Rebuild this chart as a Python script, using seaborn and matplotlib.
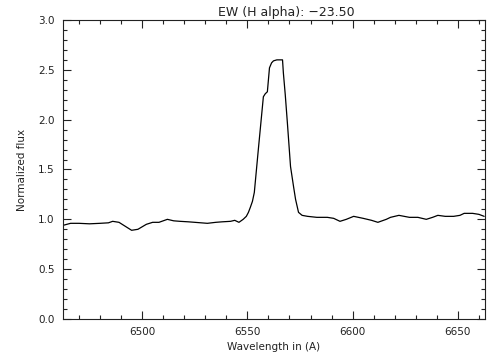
import numpy as np
import pandas as pd
import matplotlib
matplotlib.use("Agg")
import matplotlib.pyplot as plt
from matplotlib.ticker import MultipleLocator
import seaborn as sns

wavelength = [6462.5, 6466, 6470, 6475, 6480, 6484, 6486, 6489, 6492, 6495, 6498,
              6502, 6505, 6508, 6512, 6515, 6518, 6522, 6525, 6528, 6531, 6535,
              6538, 6542, 6544, 6546, 6548, 6549.5, 6550.5, 6551.4, 6552.4, 6553.3,
              6555.2, 6557.6, 6558.5, 6559.5, 6560.5, 6561.5, 6562.4, 6564, 6566.7,
              6567.1, 6568.0, 6569.0, 6570.5, 6572.0, 6572.9, 6574.3, 6576, 6578.6,
              6583, 6588, 6591, 6594, 6597, 6600.5, 6605, 6609, 6612, 6616, 6618,
              6622, 6627, 6631, 6635, 6638, 6640.5, 6644, 6648, 6651, 6653, 6657,
              6660, 6662.5]
flux = [0.94, 0.96, 0.96, 0.955, 0.96, 0.965, 0.98, 0.97, 0.93, 0.89, 0.90,
        0.95, 0.97, 0.97, 1.00, 0.985, 0.98, 0.975, 0.97, 0.965, 0.96, 0.97,
        0.975, 0.98, 0.99, 0.97, 1.00, 1.03, 1.07, 1.12, 1.18, 1.27,
        1.70, 2.23, 2.26, 2.28, 2.52, 2.57, 2.59, 2.60, 2.60,
        2.47, 2.25, 1.97, 1.53, 1.32, 1.20, 1.07, 1.04, 1.03,
        1.02, 1.02, 1.01, 0.98, 1.00, 1.03, 1.01, 0.99, 0.97, 1.00, 1.02,
        1.04, 1.02, 1.02, 1.00, 1.02, 1.04, 1.03, 1.03, 1.04, 1.06, 1.06,
        1.05, 1.03]

df = pd.DataFrame({"wave": wavelength, "flux": flux})

sns.set_theme(style="ticks")
plt.rcParams["font.family"] = ["DejaVu Sans"]

fig = plt.figure(figsize=(5.04, 3.6), dpi=100)
ax = fig.add_axes([63/504, 1-319/360, 422/504, 299/360])
sns.lineplot(data=df, x="wave", y="flux", ax=ax, color="black", linewidth=0.9,
             estimator=None, sort=False)

ax.set_xlim(6462.4, 6662.9)
ax.set_ylim(0, 3.0)
ax.xaxis.set_major_locator(MultipleLocator(50))
ax.xaxis.set_minor_locator(MultipleLocator(10))
ax.yaxis.set_major_locator(MultipleLocator(0.5))
ax.yaxis.set_minor_locator(MultipleLocator(0.1))
ax.yaxis.set_major_formatter(matplotlib.ticker.FormatStrFormatter("%.1f"))
ax.tick_params(which="both", direction="in", top=True, right=True,
               labelsize=7.5, colors="#222222", width=0.8, pad=6)
ax.tick_params(which="major", length=6)
ax.tick_params(which="minor", length=3)
for s in ax.spines.values():
    s.set_linewidth(0.8)
    s.set_color("#222222")
ax.set_xlabel("Wavelength in (A)", fontsize=7.5, color="#222222", labelpad=3)
ax.set_ylabel("Normalized flux", fontsize=7.5, color="#222222", labelpad=8)
ax.set_title("EW (H alpha): \u221223.50", fontsize=9, color="#222222", x=0.53, pad=3)

fig.savefig("out.png", dpi=100)
